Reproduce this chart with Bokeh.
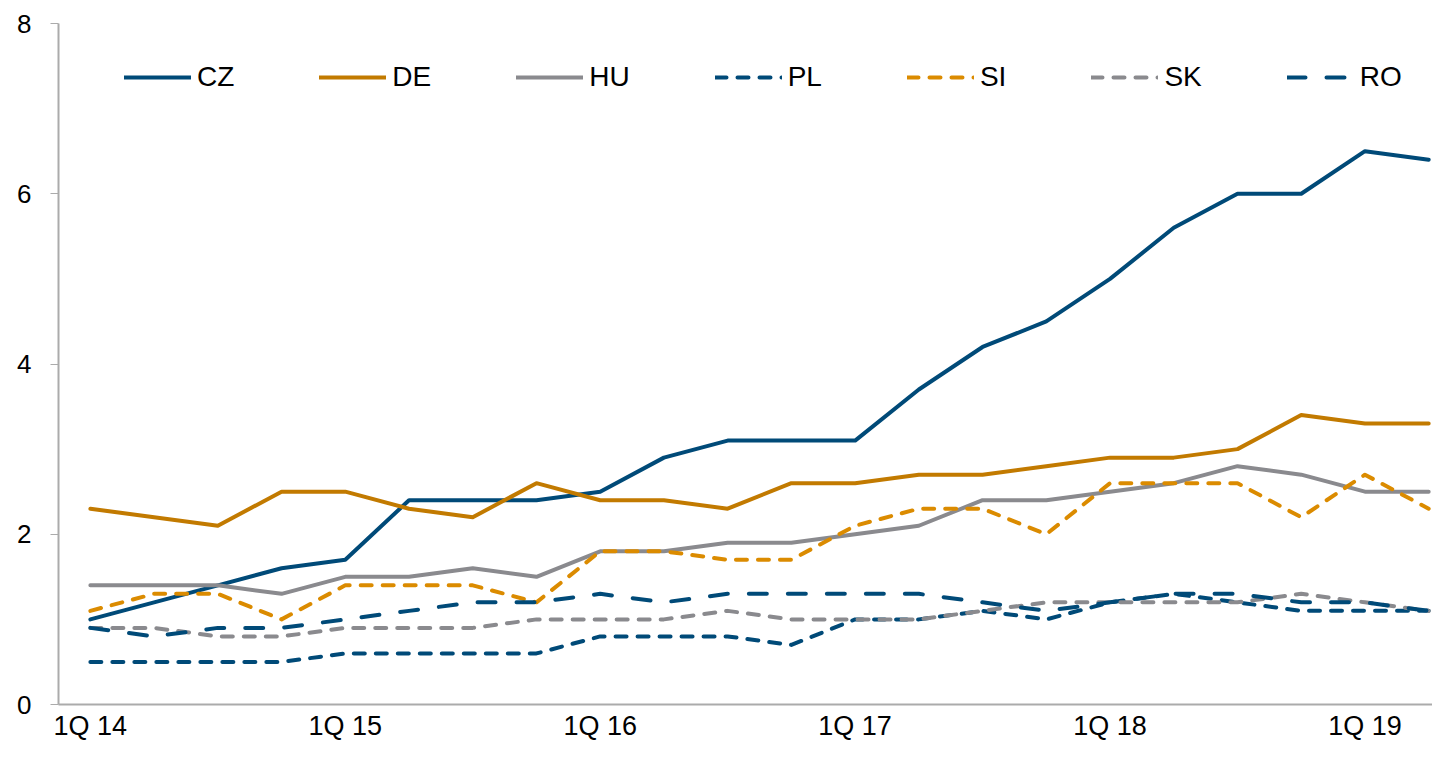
from bokeh.plotting import figure
from bokeh.models import Range1d, FixedTicker, Legend, LegendItem
from bokeh.embed import file_html
from bokeh.resources import INLINE

quarters = ["1Q 14", "2Q 14", "3Q 14", "4Q 14",
            "1Q 15", "2Q 15", "3Q 15", "4Q 15",
            "1Q 16", "2Q 16", "3Q 16", "4Q 16",
            "1Q 17", "2Q 17", "3Q 17", "4Q 17",
            "1Q 18", "2Q 18", "3Q 18", "4Q 18",
            "1Q 19", "2Q 19"]

CZ = [1.0, 1.2, 1.4, 1.6, 1.7, 2.4, 2.4, 2.4, 2.5, 2.9, 3.1, 3.1, 3.1, 3.7, 4.2, 4.5, 5.0, 5.6, 6.0, 6.0, 6.5, 6.4]
DE = [2.3, 2.2, 2.1, 2.5, 2.5, 2.3, 2.2, 2.6, 2.4, 2.4, 2.3, 2.6, 2.6, 2.7, 2.7, 2.8, 2.9, 2.9, 3.0, 3.4, 3.3, 3.3]
HU = [1.4, 1.4, 1.4, 1.3, 1.5, 1.5, 1.6, 1.5, 1.8, 1.8, 1.9, 1.9, 2.0, 2.1, 2.4, 2.4, 2.5, 2.6, 2.8, 2.7, 2.5, 2.5]
PL = [0.5, 0.5, 0.5, 0.5, 0.6, 0.6, 0.6, 0.6, 0.8, 0.8, 0.8, 0.7, 1.0, 1.0, 1.1, 1.0, 1.2, 1.3, 1.2, 1.1, 1.1, 1.1]
SI = [1.1, 1.3, 1.3, 1.0, 1.4, 1.4, 1.4, 1.2, 1.8, 1.8, 1.7, 1.7, 2.1, 2.3, 2.3, 2.0, 2.6, 2.6, 2.6, 2.2, 2.7, 2.3]
SK = [0.9, 0.9, 0.8, 0.8, 0.9, 0.9, 0.9, 1.0, 1.0, 1.0, 1.1, 1.0, 1.0, 1.0, 1.1, 1.2, 1.2, 1.2, 1.2, 1.3, 1.2, 1.1]
RO = [0.9, 0.8, 0.9, 0.9, 1.0, 1.1, 1.2, 1.2, 1.3, 1.2, 1.3, 1.3, 1.3, 1.3, 1.2, 1.1, 1.2, 1.3, 1.3, 1.2, 1.2, 1.1]

y_ticks = [0, 2, 4, 6, 8]

BLUE = "#004A78"
ORANGE = "#C27A00"
ORANGE2 = "#DB8B00"
GREY = "#8A8A8E"
AXIS = "#ABABAB"
FONT = "Liberation Sans"

x = list(range(len(quarters)))

p = figure(width=1432, height=743, output_backend="svg", toolbar_location=None,
           x_range=Range1d(-0.5, 21.06), y_range=Range1d(0, 8),
           min_border_left=58, min_border_right=0, min_border_top=23, min_border_bottom=38)
p.outline_line_color = None
p.xgrid.visible = False
p.ygrid.visible = False
p.background_fill_color = "white"

series = [
    ("CZ", CZ, BLUE, "solid"),
    ("DE", DE, ORANGE, "solid"),
    ("HU", HU, GREY, "solid"),
    ("PL", PL, BLUE, "11 11"),
    ("SI", SI, ORANGE2, "11 11"),
    ("SK", SK, GREY, "11 11"),
    ("RO", RO, BLUE, "18 21"),
]

items = []
for name, vals, color, dash in series:
    r = p.line(x, vals, line_color=color, line_width=4, line_dash=dash,
               line_cap="round", line_join="round")
    items.append(LegendItem(label=name, renderers=[r]))

legend = Legend(items=items, orientation="horizontal", location=(66, 611),
                glyph_width=67, glyph_height=30, label_standoff=6, spacing=85,
                padding=0, margin=0, border_line_color=None,
                background_fill_alpha=0, label_text_font=FONT,
                label_text_font_size="28px", label_text_color="#000000")
p.add_layout(legend)

xa = p.xaxis[0]
xa.ticker = FixedTicker(ticks=[i for i, q in enumerate(quarters) if q.startswith("1Q")])
xa.major_label_overrides = {i: q for i, q in enumerate(quarters) if q.startswith("1Q")}
xa.major_tick_out = 0
xa.major_tick_in = 0
xa.minor_tick_out = 0
xa.minor_tick_in = 0
xa.axis_line_color = AXIS
xa.axis_line_width = 2
xa.major_label_text_font = FONT
xa.major_label_text_font_size = "27px"
xa.major_label_text_color = "#000000"
xa.major_label_standoff = 6

ya = p.yaxis[0]
ya.ticker = FixedTicker(ticks=y_ticks)
ya.major_tick_out = 8
ya.major_tick_in = 0
ya.minor_tick_out = 0
ya.minor_tick_in = 0
ya.major_tick_line_color = AXIS
ya.axis_line_color = AXIS
ya.axis_line_width = 2
ya.major_label_text_font = FONT
ya.major_label_text_font_size = "26px"
ya.major_label_text_color = "#000000"
ya.major_label_standoff = 19

open("out.html", "w").write(file_html(p, INLINE))
